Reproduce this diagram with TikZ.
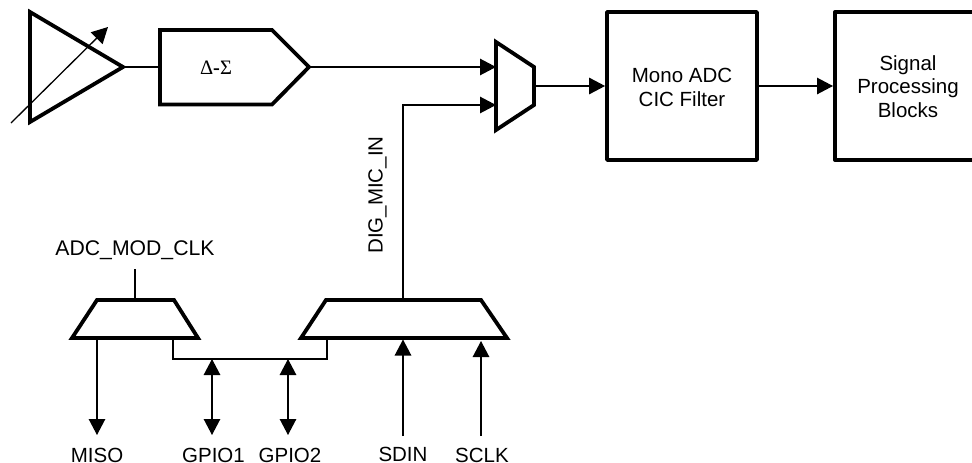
\documentclass[tikz,border=0pt]{standalone}
\usepackage{fontspec}
\setmainfont{Liberation Sans}
\newfontfamily\serifgreek{Liberation Serif}
\usetikzlibrary{arrows.meta}
\tikzset{
  x=1pt,y=-1pt,
  sig/.style={line width=1.3pt,draw=black,-{Triangle[length=16pt,width=16.5pt]}},
  bidir/.style={line width=1.3pt,draw=black,{Triangle[length=16pt,width=16.5pt]}-{Triangle[length=16pt,width=16.5pt]}},
  wire/.style={line width=1.3pt,draw=black},
  heavy/.style={line width=3.8pt,draw=black,line join=miter,fill=white},
  blockbox/.style={heavy,line join=round,rectangle,inner sep=0pt},
  lbl/.style={inner sep=0pt,font=\fontsize{20.5}{24}\selectfont,text=black},
  lblm/.style={lbl,align=center,font=\fontsize{20.5}{23.5}\selectfont}
}
\begin{document}
\begin{tikzpicture}
\useasboundingbox (0,0) rectangle (972,463);
% key coordinates
\coordinate (ampTip) at (123,67);
\coordinate (dsL) at (160,67);
\coordinate (dsR) at (309,67);
\coordinate (muxA) at (496,67);
\coordinate (muxB) at (496,105);
\coordinate (muxOut) at (534,86);
\coordinate (gainS) at (11,123);
\coordinate (gainE) at (108,27);
\coordinate (tlTop) at (135,300);
\coordinate (tlClk) at (135,269);
\coordinate (tlBotA) at (97,338);
\coordinate (tlBotB) at (173,338);
\coordinate (trBotA) at (327,338);
\coordinate (trTop) at (403,300);
\coordinate (trBotB) at (403,339.5);
\coordinate (trBotC) at (481,341);
\coordinate (misoEnd) at (97,435);
\coordinate (g1Top) at (212,359);
\coordinate (g1Bot) at (212,435);
\coordinate (g2Top) at (288,359);
\coordinate (g2Bot) at (288,435);
\coordinate (sdinEnd) at (403,436);
\coordinate (sclkEnd) at (481,436);
% wires underneath
\draw[wire] (ampTip) -- (dsL);
\draw[sig] (dsR) -- (muxA);
\draw[sig] (trTop) |- (muxB);
\draw[wire] (tlBotB) |- (g1Top) -- (g2Top) -| (trBotA);
% shapes
\draw[heavy] (30,12) -- (ampTip) -- (30,122) -- cycle;
\draw[heavy] (160,30) -- (272,30) -- (dsR) -- (272,104.5) -- (160,104.5) -- cycle;
\draw[heavy] (496,42) -- (534,67) -- (534,105) -- (496,130) -- cycle;
\draw[heavy] (97,300) -- (174,300) -- (198,338) -- (72,338) -- cycle;
\draw[heavy] (326,300) -- (481,300) -- (507,338) -- (301,338) -- cycle;
\node[blockbox,minimum width=150pt,minimum height=148pt] (cic) at (682,86) {};
\node[blockbox,minimum width=150pt,minimum height=148pt,anchor=west] (spb) at (833,86) {};
% gain arrow over amp
\draw[sig] (gainS) -- (gainE);
% signals
\draw[sig] (muxOut) -- (cic.west);
\draw[sig] (cic.east) -- (spb.west);
\draw[wire] (tlClk) -- (tlTop);
\draw[sig] (tlBotA) -- (misoEnd);
\draw[bidir] (g1Top) -- (g1Bot);
\draw[bidir] (g2Top) -- (g2Bot);
\draw[sig] (sdinEnd) -- (trBotB);
\draw[sig] (sclkEnd) -- (trBotC);
% text
\node[lblm] (ciclbl) at (682,87.5) {Mono ADC\\CIC Filter};
\node[lblm] (spblbl) at (908,86.5) {Signal\\Processing\\Blocks};
\node[inner sep=0pt,font=\serifgreek\fontsize{20.5}{24}\selectfont] (dslbl) at (216,68) {Δ\textbf{-}Σ};
\node[lbl,font=\fontsize{21.2}{24}\selectfont,anchor=base] (clk) at (135,255.5) {ADC\_MOD\_CLK};
\node[lbl,rotate=90] (dig) at (377.5,195) {DIG\_MIC\_IN};
\node[lbl,anchor=base] (miso) at (97,462) {MISO};
\node[lbl,anchor=base] (g1) at (213.5,462) {GPIO1};
\node[lbl,anchor=base] (g2) at (290,462) {GPIO2};
\node[lbl,anchor=base] (sdin) at (403,461) {SDIN};
\node[lbl,anchor=base] (sclk) at (482,462) {SCLK};
\end{tikzpicture}
\end{document}
